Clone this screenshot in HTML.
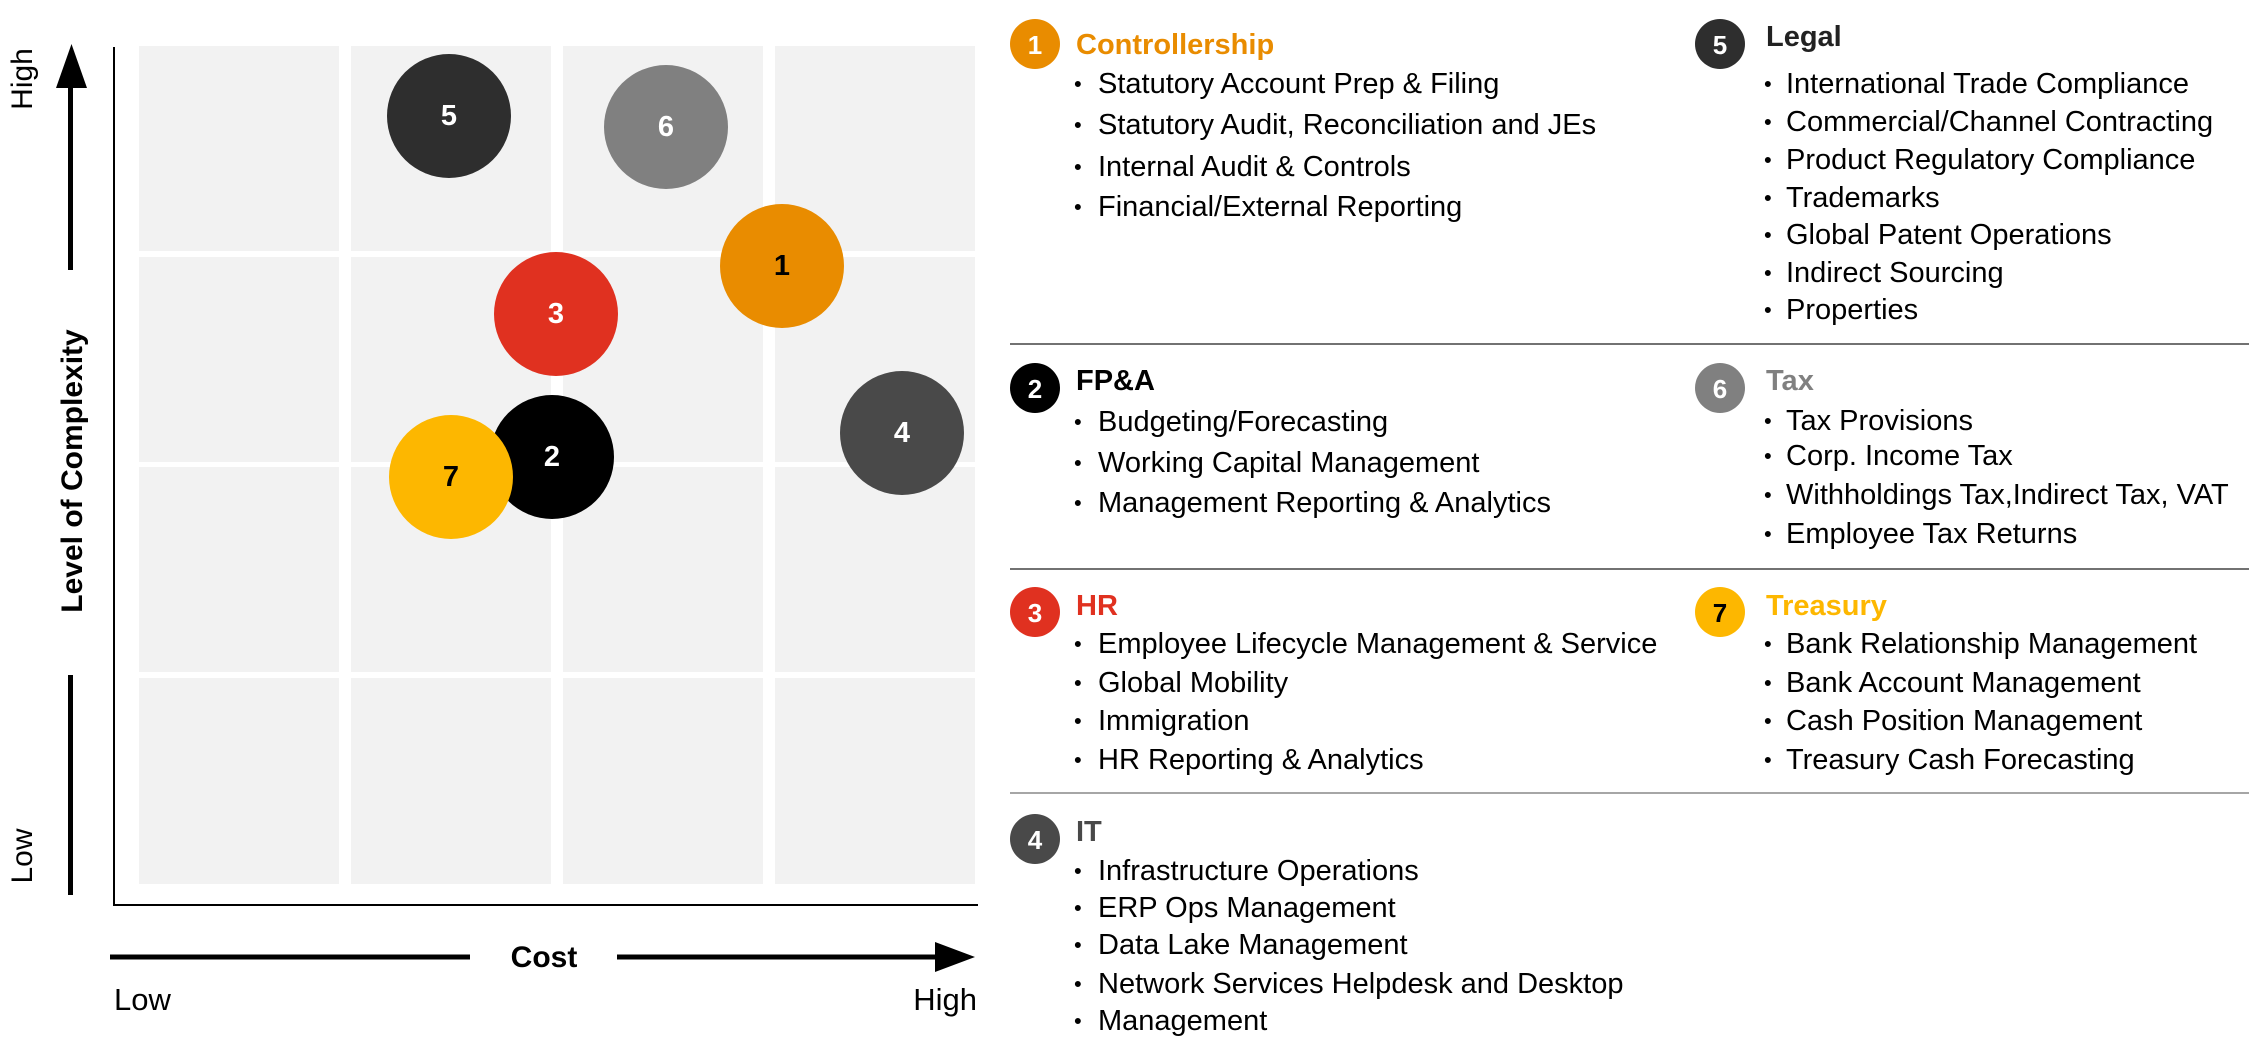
<!DOCTYPE html>
<html><head><meta charset="utf-8"><style>
html,body{margin:0;padding:0;background:#fff;}
svg{display:block;}
text{font-family:"Liberation Sans",Arial,sans-serif;}
.it{font-size:29px;fill:#000;}
.hd{font-size:29px;font-weight:bold;}
.cn{font-size:29px;font-weight:bold;}
.sn{font-size:26px;font-weight:bold;}
</style></head><body>
<svg width="2251" height="1051" viewBox="0 0 2251 1051" xmlns="http://www.w3.org/2000/svg">
<g fill="#f2f2f2">
<rect x="139" y="46" width="200" height="205"/><rect x="351" y="46" width="200" height="205"/><rect x="563" y="46" width="200" height="205"/><rect x="775" y="46" width="200" height="205"/>
<rect x="139" y="257" width="200" height="205"/><rect x="351" y="257" width="200" height="205"/><rect x="563" y="257" width="200" height="205"/><rect x="775" y="257" width="200" height="205"/>
<rect x="139" y="467" width="200" height="205"/><rect x="351" y="467" width="200" height="205"/><rect x="563" y="467" width="200" height="205"/><rect x="775" y="467" width="200" height="205"/>
<rect x="139" y="678" width="200" height="206"/><rect x="351" y="678" width="200" height="206"/><rect x="563" y="678" width="200" height="206"/><rect x="775" y="678" width="200" height="206"/>
</g>
<line x1="114" y1="47" x2="114" y2="906" stroke="#000" stroke-width="2"/>
<line x1="113" y1="905" x2="978" y2="905" stroke="#000" stroke-width="2"/>
<line x1="70.5" y1="270" x2="70.5" y2="84" stroke="#000" stroke-width="5"/>
<polygon points="56,88 87,88 71.5,44" fill="#000"/>
<line x1="70.5" y1="675" x2="70.5" y2="895" stroke="#000" stroke-width="5"/>
<text transform="translate(32,79) rotate(-90)" text-anchor="middle" font-size="30">High</text>
<text transform="translate(32,856) rotate(-90)" text-anchor="middle" font-size="30">Low</text>
<text transform="translate(82,471) rotate(-90)" text-anchor="middle" font-size="30" font-weight="bold">Level of Complexity</text>
<line x1="110" y1="957" x2="470" y2="957" stroke="#000" stroke-width="5"/>
<line x1="617" y1="957" x2="940" y2="957" stroke="#000" stroke-width="5"/>
<polygon points="935,942 935,972 975,957" fill="#000"/>
<text x="544" y="967" text-anchor="middle" font-size="30" font-weight="bold">Cost</text>
<text x="114" y="1010" font-size="31">Low</text>
<text x="977" y="1010" text-anchor="end" font-size="31">High</text>
<g class="cn" text-anchor="middle" dominant-baseline="central">
<circle cx="449" cy="116" r="62" fill="#2e2e2e"/><text x="449" y="116" fill="#fff">5</text>
<circle cx="666" cy="127" r="62" fill="#808080"/><text x="666" y="127" fill="#fff">6</text>
<circle cx="782" cy="266" r="62" fill="#e98c00"/><text x="782" y="266" fill="#000">1</text>
<circle cx="556" cy="314" r="62" fill="#e03120"/><text x="556" y="314" fill="#fff">3</text>
<circle cx="902" cy="433" r="62" fill="#494949"/><text x="902" y="433" fill="#fff">4</text>
<circle cx="552" cy="457" r="62" fill="#000"/><text x="552" y="457" fill="#fff">2</text>
<circle cx="451" cy="477" r="62" fill="#fdb700"/><text x="451" y="477" fill="#000">7</text>
</g>
<line x1="1010" y1="344" x2="2249" y2="344" stroke="#444" stroke-width="1.5"/>
<line x1="1010" y1="569" x2="2249" y2="569" stroke="#444" stroke-width="1.5"/>
<line x1="1010" y1="793" x2="2249" y2="793" stroke="#888" stroke-width="1.5"/>
<g dominant-baseline="central">
<g class="sn" text-anchor="middle">
<circle cx="1035" cy="44" r="25" fill="#e98c00"/><text x="1035" y="45" fill="#fff">1</text>
<circle cx="1720" cy="44" r="25" fill="#2e2e2e"/><text x="1720" y="45" fill="#fff">5</text>
<circle cx="1035" cy="388" r="25" fill="#000"/><text x="1035" y="389" fill="#fff">2</text>
<circle cx="1720" cy="388" r="25" fill="#808080"/><text x="1720" y="389" fill="#fff">6</text>
<circle cx="1035" cy="612" r="25" fill="#e03120"/><text x="1035" y="613" fill="#fff">3</text>
<circle cx="1720" cy="612" r="25" fill="#fdb700"/><text x="1720" y="613" fill="#000">7</text>
<circle cx="1035" cy="839" r="25" fill="#494949"/><text x="1035" y="840" fill="#fff">4</text>
</g>
<text class="hd" x="1076" y="45" fill="#e98c00">Controllership</text>
<text class="hd" x="1766" y="37" fill="#222">Legal</text>
<text class="hd" x="1076" y="381" fill="#000">FP&amp;A</text>
<text class="hd" x="1766" y="381" fill="#808080">Tax</text>
<text class="hd" x="1076" y="606" fill="#e03120">HR</text>
<text class="hd" x="1766" y="606" fill="#fdb700">Treasury</text>
<text class="hd" x="1076" y="832" fill="#494949">IT</text>
<g class="it" font-size="22">
<text x="1074" y="84" font-size="22">•</text><text x="1098" y="84">Statutory Account Prep &amp; Filing</text>
<text x="1074" y="125" font-size="22">•</text><text x="1098" y="125">Statutory Audit, Reconciliation and JEs</text>
<text x="1074" y="167" font-size="22">•</text><text x="1098" y="167">Internal Audit &amp; Controls</text>
<text x="1074" y="207" font-size="22">•</text><text x="1098" y="207">Financial/External Reporting</text>
<text x="1764" y="84" font-size="22">•</text><text x="1786" y="84">International Trade Compliance</text>
<text x="1764" y="122" font-size="22">•</text><text x="1786" y="122">Commercial/Channel Contracting</text>
<text x="1764" y="160" font-size="22">•</text><text x="1786" y="160">Product Regulatory Compliance</text>
<text x="1764" y="198" font-size="22">•</text><text x="1786" y="198">Trademarks</text>
<text x="1764" y="235" font-size="22">•</text><text x="1786" y="235">Global Patent Operations</text>
<text x="1764" y="273" font-size="22">•</text><text x="1786" y="273">Indirect Sourcing</text>
<text x="1764" y="310" font-size="22">•</text><text x="1786" y="310">Properties</text>
<text x="1074" y="422" font-size="22">•</text><text x="1098" y="422">Budgeting/Forecasting</text>
<text x="1074" y="463" font-size="22">•</text><text x="1098" y="463">Working Capital Management</text>
<text x="1074" y="503" font-size="22">•</text><text x="1098" y="503">Management Reporting &amp; Analytics</text>
<text x="1764" y="421" font-size="22">•</text><text x="1786" y="421">Tax Provisions</text>
<text x="1764" y="456" font-size="22">•</text><text x="1786" y="456">Corp. Income Tax</text>
<text x="1764" y="495" font-size="22">•</text><text x="1786" y="495">Withholdings Tax,Indirect Tax, VAT</text>
<text x="1764" y="534" font-size="22">•</text><text x="1786" y="534">Employee Tax Returns</text>
<text x="1074" y="644" font-size="22">•</text><text x="1098" y="644">Employee Lifecycle Management &amp; Service</text>
<text x="1074" y="683" font-size="22">•</text><text x="1098" y="683">Global Mobility</text>
<text x="1074" y="721" font-size="22">•</text><text x="1098" y="721">Immigration</text>
<text x="1074" y="760" font-size="22">•</text><text x="1098" y="760">HR Reporting &amp; Analytics</text>
<text x="1764" y="644" font-size="22">•</text><text x="1786" y="644">Bank Relationship Management</text>
<text x="1764" y="683" font-size="22">•</text><text x="1786" y="683">Bank Account Management</text>
<text x="1764" y="721" font-size="22">•</text><text x="1786" y="721">Cash Position Management</text>
<text x="1764" y="760" font-size="22">•</text><text x="1786" y="760">Treasury Cash Forecasting</text>
<text x="1074" y="871" font-size="22">•</text><text x="1098" y="871">Infrastructure Operations</text>
<text x="1074" y="908" font-size="22">•</text><text x="1098" y="908">ERP Ops Management</text>
<text x="1074" y="945" font-size="22">•</text><text x="1098" y="945">Data Lake Management</text>
<text x="1074" y="984" font-size="22">•</text><text x="1098" y="984">Network Services Helpdesk and Desktop</text>
<text x="1074" y="1021" font-size="22">•</text><text x="1098" y="1021">Management</text>
</g>
</g>
</svg>
</body></html>
